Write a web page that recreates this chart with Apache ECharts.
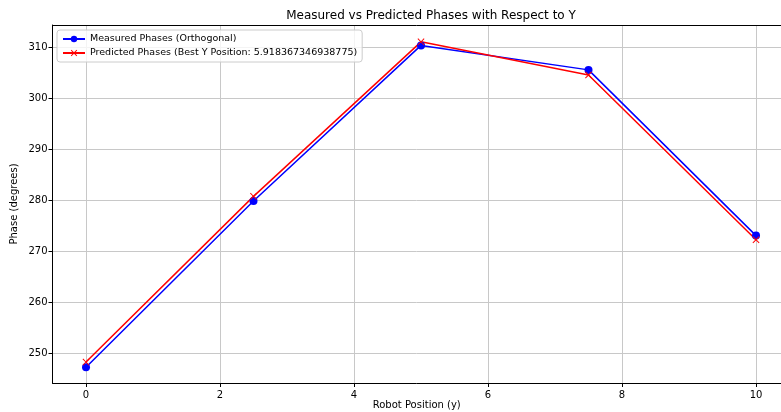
<!DOCTYPE html>
<html><head><meta charset="utf-8">
<script src="https://cdn.jsdelivr.net/npm/echarts@6/dist/echarts.min.js"></script>
<style>html,body{margin:0;padding:0;background:#fff}#c{width:781px;height:412px}</style>
</head><body><div id="c"></div>
<script>
const positions = [0, 2.5, 5, 7.5, 10];
const measured = [247.2, 279.8, 310.3, 305.5, 273.0];
const predicted = [248.2, 280.7, 311.0, 304.5, 272.2];
const xTicks = [0, 2, 4, 6, 8, 10];
const yTicks = [250, 260, 270, 280, 290, 300, 310];
const font = 'DejaVu Sans';
const xPath = 'path://M0,1L1,0L5,4L9,0L10,1L6,5L10,9L9,10L5,6L1,10L0,9L4,5Z';
const chart = echarts.init(document.getElementById('c'));
chart.setOption({
  animation: false,
  textStyle: {fontFamily: font},
  title: {text: 'Measured vs Predicted Phases with Respect to Y', left: 426, top: 5, textAlign: 'center',
    textStyle: {fontFamily: font, fontSize: 12, fontWeight: 'normal', color: '#000'}},
  grid: {left: 52.5, top: 25, right: 0, bottom: 29, show: false, containLabel: false, outerBoundsMode: 'none'},
  legend: {left: 57, top: 30, orient: 'vertical', itemWidth: 22, itemHeight: 8, itemGap: 4,
    backgroundColor: 'rgba(255,255,255,0.8)', borderColor: '#ccc', borderWidth: 1, borderRadius: 3, padding: [4, 5],
    textStyle: {fontFamily: font, fontSize: 9.5, color: '#000'}},
  xAxis: [{type: 'value', min: -0.5, max: 10.373, name: 'Robot Position (y)', nameLocation: 'middle', nameGap: 17,
    nameMoveOverlap: false,
    nameTextStyle: {fontFamily: font, fontSize: 10, color: '#000'},
    axisLine: {show: true, onZero: false, lineStyle: {color: '#000'}},
    axisTick: {show: true, customValues: xTicks, length: 4, lineStyle: {color: '#000'}},
    axisLabel: {customValues: xTicks, fontFamily: font, fontSize: 10, color: '#000', margin: 7},
    splitLine: {show: true, lineStyle: {color: '#c8c8c8', width: 1}}},
   {type: 'value', position: 'top', min: -0.5, max: 10.373,
    axisLine: {show: true, onZero: false, lineStyle: {color: '#000'}},
    axisTick: {show: false}, axisLabel: {show: false}, splitLine: {show: false}}],
  yAxis: {type: 'value', min: 244.1, max: 314.3, name: 'Phase (degrees)', nameLocation: 'middle', nameGap: 33,
    nameMoveOverlap: false,
    nameTextStyle: {fontFamily: font, fontSize: 10, color: '#000'},
    axisLine: {show: true, onZero: false, lineStyle: {color: '#000'}},
    axisTick: {show: true, customValues: yTicks, length: 4, lineStyle: {color: '#000'}},
    axisLabel: {customValues: yTicks, fontFamily: font, fontSize: 10, color: '#000', margin: 5},
    splitLine: {show: true, lineStyle: {color: '#c8c8c8', width: 1}}},
  series: [
    {name: 'Measured Phases (Orthogonal)', type: 'line', data: positions.map((x, i) => [x, measured[i]]),
      symbol: 'circle', symbolSize: 8, showAllSymbol: true,
      lineStyle: {color: '#0000ff', width: 1.5}, itemStyle: {color: '#0000ff'}},
    {name: 'Predicted Phases (Best Y Position: 5.918367346938775)', type: 'line', data: positions.map((x, i) => [x, predicted[i]]),
      symbol: xPath, symbolSize: 7, showAllSymbol: true,
      lineStyle: {color: '#ff0000', width: 1.5}, itemStyle: {color: '#ff0000'}}
  ]
});
</script></body></html>
